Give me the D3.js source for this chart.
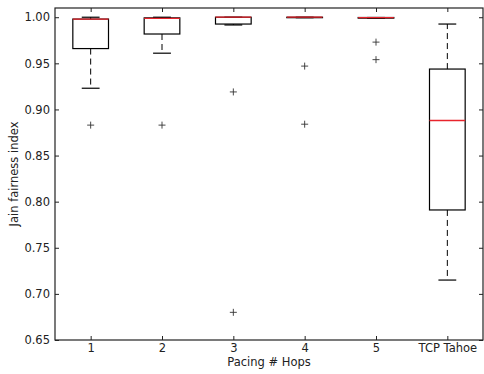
<!DOCTYPE html>
<html>
<head>
<meta charset="utf-8">
<script src="https://cdn.jsdelivr.net/npm/d3@7"></script>
<style>
  html, body { margin: 0; padding: 0; background: #fff; }
  svg { display: block; }
  text { font-family: "DejaVu Sans", sans-serif; fill: #222; }
</style>
</head>
<body>
<svg id="chart" width="484" height="374"></svg>
<script>
// Box-plot summary per configuration
const categories = ["1", "2", "3", "4", "5", "TCP Tahoe"];
const whiskerLow  = [0.923, 0.961, 0.9916, 0.9995, 0.999, 0.715];
const q1          = [0.966, 0.9818, 0.9926, 0.9995, 0.999, 0.791];
const median      = [0.998, 0.9988, 1.0, 1.0, 0.9995, 0.888];
const q3          = [0.998, 0.9993, 1.0, 1.0, 0.9997, 0.9438];
const whiskerHigh = [1.0, 1.0, 1.0, 1.0, 0.9997, 0.9926];
const outliers    = [[0.883], [0.883], [0.919, 0.680], [0.947, 0.884], [0.973, 0.954], []];
const yTicks      = [0.65, 0.70, 0.75, 0.80, 0.85, 0.90, 0.95, 1.00];

const margin = { left: 55, right: 1, top: 8, bottom: 34 };
const W = 484, H = 374;
const svg = d3.select("#chart");

const x = d3.scaleLinear().domain([0.5, categories.length + 0.5])
  .range([margin.left, W - margin.right]);
const y = d3.scaleLinear().domain([0.65, 1.01])
  .range([H - margin.bottom, margin.top]);

const boxW = x(1.25) - x(1);   // half of the box width
const capW = x(1.125) - x(1);  // half of the whisker cap width

const data = categories.map((c, i) => ({
  i: i + 1, lo: whiskerLow[i], q1: q1[i], med: median[i], q3: q3[i],
  hi: whiskerHigh[i], out: outliers[i]
}));

const g = svg.append("g");
const box = g.selectAll("g.box").data(data).join("g").attr("class", "box");

// dashed whiskers
box.append("line")
  .attr("x1", d => x(d.i)).attr("x2", d => x(d.i))
  .attr("y1", d => y(d.q3)).attr("y2", d => y(d.hi))
  .attr("stroke", "#000").attr("stroke-dasharray", "6,4");
box.append("line")
  .attr("x1", d => x(d.i)).attr("x2", d => x(d.i))
  .attr("y1", d => y(d.q1)).attr("y2", d => y(d.lo))
  .attr("stroke", "#000").attr("stroke-dasharray", "6,4");
// caps
["hi", "lo"].forEach(k => {
  box.append("line")
    .attr("x1", d => x(d.i) - capW).attr("x2", d => x(d.i) + capW)
    .attr("y1", d => y(d[k])).attr("y2", d => y(d[k]))
    .attr("stroke", "#000").attr("stroke-width", 1.2);
});
// box
box.append("rect")
  .attr("x", d => x(d.i) - boxW).attr("width", 2 * boxW)
  .attr("y", d => y(d.q3)).attr("height", d => Math.max(0, y(d.q1) - y(d.q3)))
  .attr("fill", "none").attr("stroke", "#000").attr("stroke-width", 1.2);
// median
box.append("line")
  .attr("x1", d => x(d.i) - boxW).attr("x2", d => x(d.i) + boxW)
  .attr("y1", d => y(d.med)).attr("y2", d => y(d.med))
  .attr("stroke", "#e8242c").attr("stroke-width", 1.3);
// fliers
box.each(function(d) {
  d3.select(this).selectAll("path.flier").data(d.out).join("path")
    .attr("class", "flier")
    .attr("d", v => `M${x(d.i) - 3.5},${y(v)}h7M${x(d.i)},${y(v) - 3.5}v7`)
    .attr("stroke", "#333").attr("stroke-width", 0.9);
});

// frame
const x0 = margin.left, x1 = W - margin.right, y0 = margin.top, y1 = H - margin.bottom;
svg.append("rect").attr("x", x0).attr("y", y0).attr("width", x1 - x0).attr("height", y1 - y0)
  .attr("fill", "none").attr("stroke", "#222").attr("stroke-width", 1.2);

// axes with inward ticks on all four sides
const fmt = d3.format(".2f");
const yAxis = svg.append("g").attr("transform", `translate(${x0},0)`)
  .call(d3.axisLeft(y).tickValues(yTicks).tickFormat(fmt).tickSize(-4).tickPadding(5));
const yAxisR = svg.append("g").attr("transform", `translate(${x1},0)`)
  .call(d3.axisRight(y).tickValues(yTicks).tickFormat("").tickSize(-4));
const xAxis = svg.append("g").attr("transform", `translate(0,${y1})`)
  .call(d3.axisBottom(x).tickValues(d3.range(1, categories.length + 1))
    .tickFormat(d => categories[d - 1]).tickSize(-4).tickPadding(4));
const xAxisT = svg.append("g").attr("transform", `translate(0,${y0})`)
  .call(d3.axisTop(x).tickValues(d3.range(1, categories.length + 1)).tickFormat("").tickSize(-4));
[yAxis, yAxisR, xAxis, xAxisT].forEach(a => {
  a.select(".domain").remove();
  a.selectAll(".tick line").attr("stroke", "#222");
  a.selectAll("text").style("font-size", "11.5px").attr("fill", "#222");
});

svg.append("text").attr("x", (x0 + x1) / 2).attr("y", 366)
  .attr("text-anchor", "middle").style("font-size", "11.5px").text("Pacing # Hops");
svg.append("text").attr("transform", `translate(18,${(y0 + y1) / 2}) rotate(-90)`)
  .attr("text-anchor", "middle").style("font-size", "11.5px").text("Jain fairness index");
</script>
</body>
</html>
